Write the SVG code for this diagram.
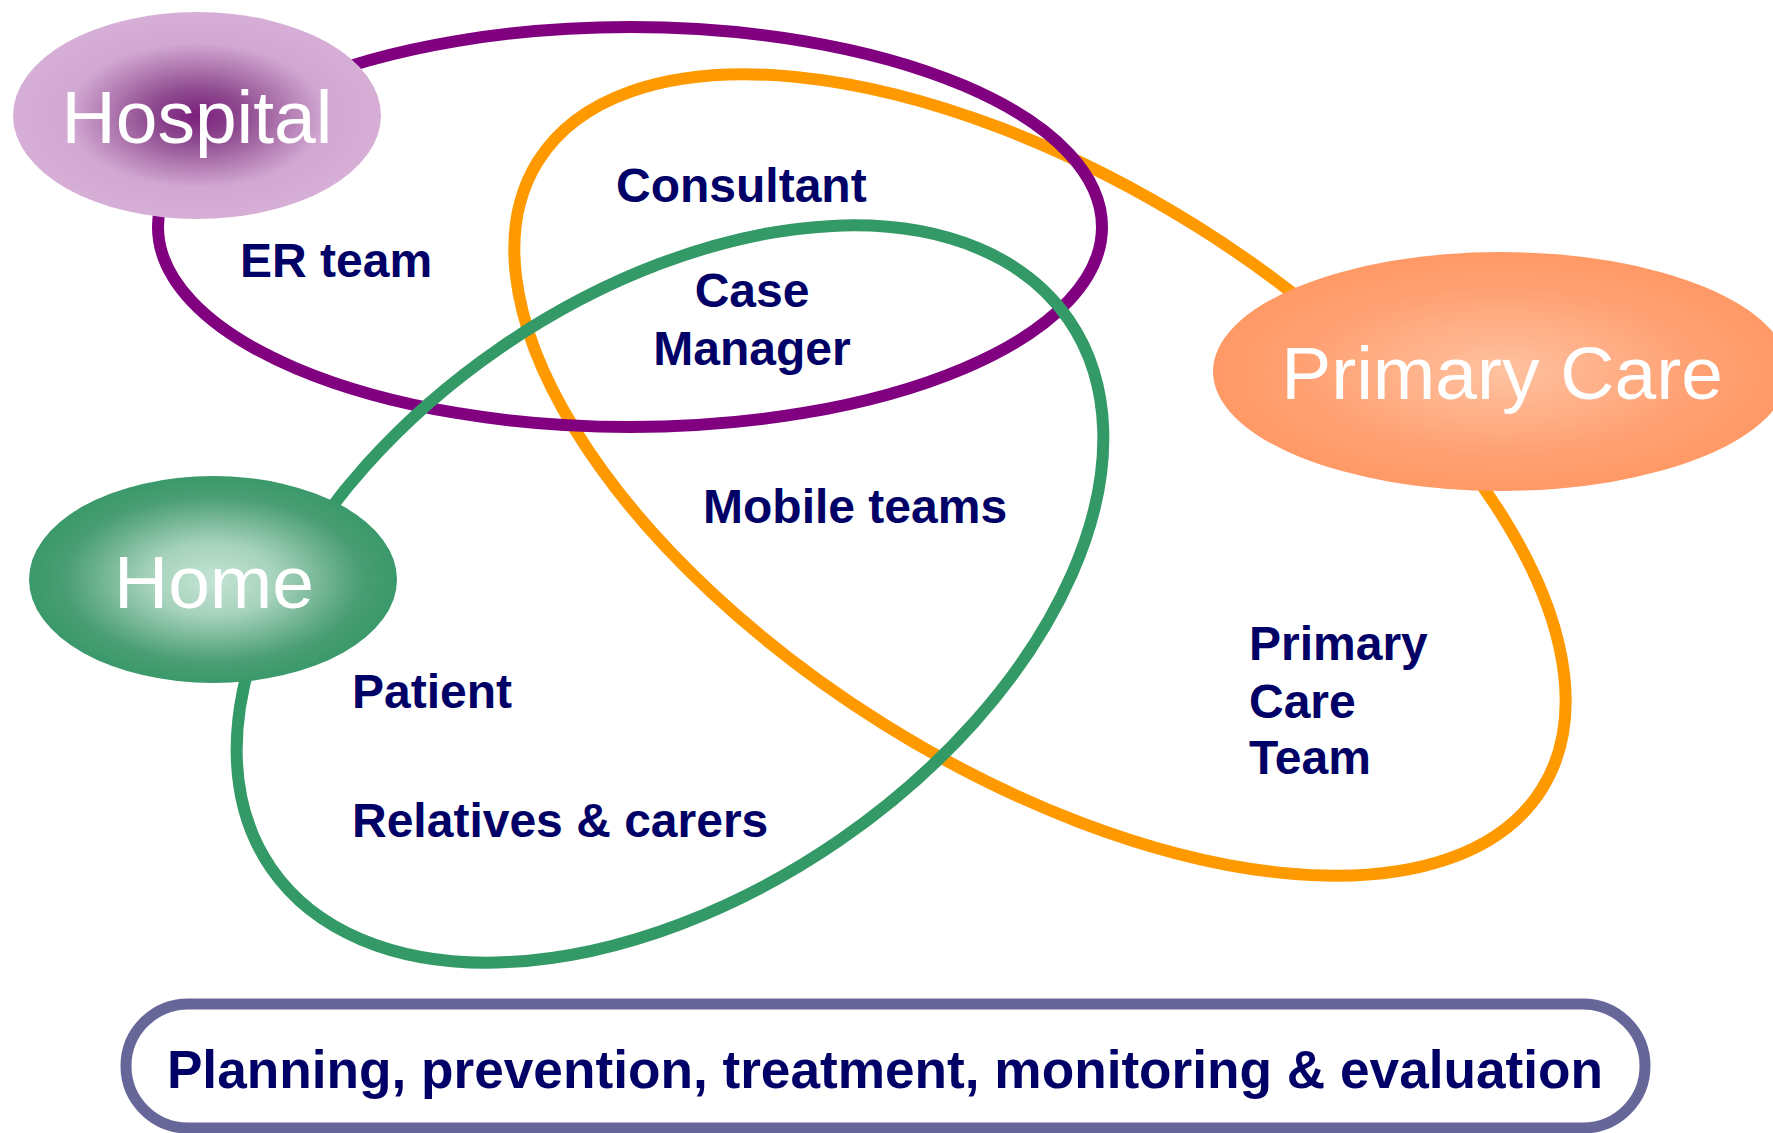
<svg xmlns="http://www.w3.org/2000/svg" width="1773" height="1133" viewBox="0 0 1773 1133">
<defs>
<radialGradient id="gHosp" cx="0.5" cy="0.5" r="0.5">
<stop offset="0" stop-color="#7A1E7C"/>
<stop offset="0.25" stop-color="#8E4A8F"/>
<stop offset="0.7" stop-color="#D2A8D2"/>
<stop offset="1" stop-color="#D6AED6"/>
</radialGradient>
<radialGradient id="gHome" cx="0.5" cy="0.5" r="0.5">
<stop offset="0" stop-color="#C4E4D4"/>
<stop offset="0.35" stop-color="#A6D2BC"/>
<stop offset="0.8" stop-color="#4A9E74"/>
<stop offset="1" stop-color="#3A996A"/>
</radialGradient>
<radialGradient id="gPC" cx="0.5" cy="0.5" r="0.5">
<stop offset="0" stop-color="#FFC2A0"/>
<stop offset="0.7" stop-color="#FFA072"/>
<stop offset="1" stop-color="#FF9966"/>
</radialGradient>
<style>
.loop{fill:none;stroke-width:12}
.lbl{font-family:"Liberation Sans",Arial,sans-serif;font-weight:bold;font-size:48px;fill:#000066}
.node{font-family:"Liberation Sans",Arial,sans-serif;font-size:75px;fill:#FFFFFF;text-anchor:middle}
</style>
</defs>
<g id="connectors">
<ellipse class="loop" stroke="#FF9900" cx="1040" cy="475" rx="592" ry="294" transform="rotate(32 1040 475)"/>
<ellipse class="loop" stroke="#800080" cx="630" cy="227" rx="472" ry="200"/>
<ellipse class="loop" stroke="#339966" cx="670" cy="594" rx="484" ry="299" transform="rotate(-34.5 670 594)"/>
</g>
<g id="hospital">
<ellipse cx="197" cy="115.5" rx="184" ry="103.5" fill="url(#gHosp)"/>
<text class="node" x="197" y="143">Hospital</text>
</g>
<g id="home">
<ellipse cx="213" cy="579.5" rx="184" ry="103.5" fill="url(#gHome)"/>
<text class="node" x="214" y="608">Home</text>
</g>
<g id="primary-care">
<ellipse cx="1501" cy="371.5" rx="288" ry="119.5" fill="url(#gPC)"/>
<text class="node" x="1502" y="399">Primary Care</text>
</g>
<g id="labels">
<text class="lbl" x="240" y="277">ER team</text>
<text class="lbl" x="616" y="202">Consultant</text>
<text class="lbl" x="752" y="307" text-anchor="middle">Case</text>
<text class="lbl" x="752" y="365" text-anchor="middle">Manager</text>
<text class="lbl" x="703" y="523">Mobile teams</text>
<text class="lbl" x="352" y="708">Patient</text>
<text class="lbl" x="352" y="837">Relatives &amp; carers</text>
<text class="lbl" x="1249" y="660">Primary</text>
<text class="lbl" x="1249" y="718">Care</text>
<text class="lbl" x="1249" y="774">Team</text>
</g>
<g id="footer">
<rect x="126" y="1004" width="1519" height="124" rx="62" ry="62" fill="#FFFFFF" stroke="#666699" stroke-width="11"/>
<text x="885" y="1088" text-anchor="middle" style="font-family:'Liberation Sans',Arial,sans-serif;font-weight:bold;font-size:53.2px;fill:#000066">Planning, prevention, treatment, monitoring &amp; evaluation</text>
</g>
</svg>
